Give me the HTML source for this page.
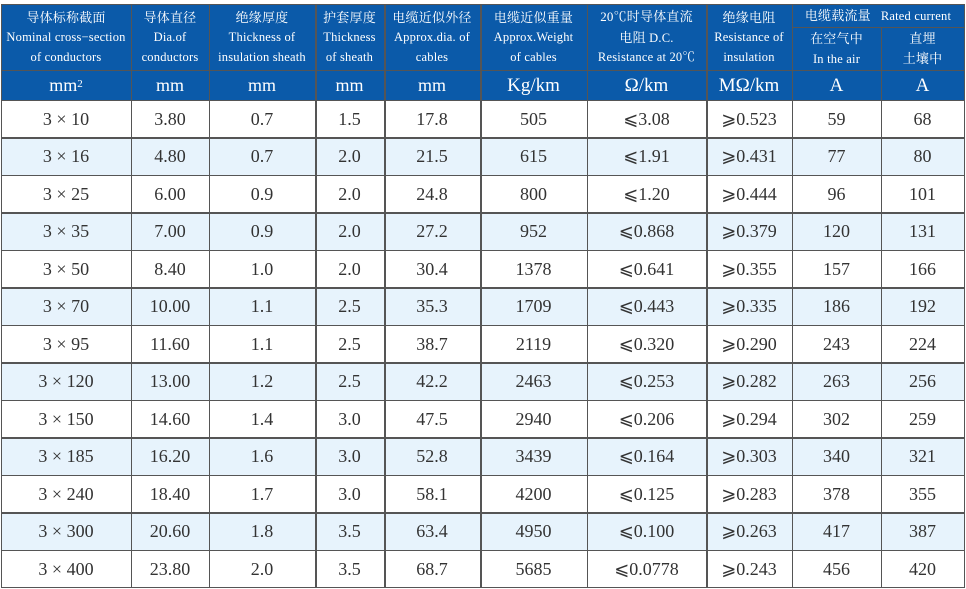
<!DOCTYPE html>
<html><head><meta charset="utf-8">
<style>
html,body{margin:0;padding:0;background:#fff;}
body{width:966px;height:589px;position:relative;overflow:hidden;font-family:"Liberation Serif","Noto Serif CJK SC",serif;}
.c{position:absolute;display:flex;align-items:center;justify-content:center;text-align:center;box-sizing:border-box;}
.h{color:#fff;font-size:12.5px;line-height:19.5px;letter-spacing:0.2px;}
.h .z{font-family:"Liberation Serif","Noto Serif CJK SC",serif;font-size:13px;}
.u{color:#fff;font-size:18px;}
.d{color:#333;font-size:18px;}
.vl{position:absolute;width:1.5px;background:#555;}
.hl{position:absolute;height:1.5px;background:#555;}
</style></head><body>
<!-- blue header background -->
<div style="position:absolute;left:1px;top:4px;width:963px;height:96px;background:#0b5aa9;"></div>
<!-- alternating rows -->
<div style="position:absolute;left:1px;top:137.5px;width:963px;height:37.5px;background:#e7f3fc;"></div>
<div style="position:absolute;left:1px;top:212.5px;width:963px;height:37.5px;background:#e7f3fc;"></div>
<div style="position:absolute;left:1px;top:287.5px;width:963px;height:37.5px;background:#e7f3fc;"></div>
<div style="position:absolute;left:1px;top:362.5px;width:963px;height:37.5px;background:#e7f3fc;"></div>
<div style="position:absolute;left:1px;top:437.5px;width:963px;height:37.5px;background:#e7f3fc;"></div>
<div style="position:absolute;left:1px;top:512.5px;width:963px;height:37.5px;background:#e7f3fc;"></div>

<!-- horizontal lines -->
<div class="hl" style="left:1px;top:3.5px;width:964px;"></div>
<div class="hl" style="left:792px;top:26.5px;width:172px;"></div>
<div class="hl" style="left:1px;top:69.5px;width:964px;"></div>
<div class="hl" style="left:1px;top:99.5px;width:964px;"></div>
<div class="hl" style="left:1px;top:137px;width:964px;"></div>
<div class="hl" style="left:1px;top:174.5px;width:964px;"></div>
<div class="hl" style="left:1px;top:212px;width:964px;"></div>
<div class="hl" style="left:1px;top:249.5px;width:964px;"></div>
<div class="hl" style="left:1px;top:287px;width:964px;"></div>
<div class="hl" style="left:1px;top:324.5px;width:964px;"></div>
<div class="hl" style="left:1px;top:362px;width:964px;"></div>
<div class="hl" style="left:1px;top:399.5px;width:964px;"></div>
<div class="hl" style="left:1px;top:437px;width:964px;"></div>
<div class="hl" style="left:1px;top:474.5px;width:964px;"></div>
<div class="hl" style="left:1px;top:512px;width:964px;"></div>
<div class="hl" style="left:1px;top:549.5px;width:964px;"></div>
<div class="hl" style="left:1px;top:586.5px;width:964px;"></div>

<!-- vertical lines -->
<div class="vl" style="left:0.5px;top:3.5px;height:584.5px;"></div>
<div class="vl" style="left:130.5px;top:3.5px;height:584.5px;"></div>
<div class="vl" style="left:208.5px;top:3.5px;height:584.5px;"></div>
<div class="vl" style="left:315px;top:3.5px;height:584.5px;"></div>
<div class="vl" style="left:384px;top:3.5px;height:584.5px;"></div>
<div class="vl" style="left:480px;top:3.5px;height:584.5px;"></div>
<div class="vl" style="left:586.5px;top:3.5px;height:584.5px;"></div>
<div class="vl" style="left:706px;top:3.5px;height:584.5px;"></div>
<div class="vl" style="left:791.5px;top:3.5px;height:584.5px;"></div>
<div class="vl" style="left:880.5px;top:27px;height:561px;"></div>
<div class="vl" style="left:963.5px;top:3.5px;height:584.5px;"></div>

<!-- header row -->
<div class="c h" style="left:1px;top:5px;width:130px;height:65px;"><div><span class="z">导体标称截面</span><br>Nominal cross−section<br>of conductors</div></div>
<div class="c h" style="left:131px;top:5px;width:78px;height:65px;"><div><span class="z">导体直径</span><br>Dia.of<br>conductors</div></div>
<div class="c h" style="left:209px;top:5px;width:106px;height:65px;"><div><span class="z">绝缘厚度</span><br>Thickness of<br>insulation sheath</div></div>
<div class="c h" style="left:315px;top:5px;width:69px;height:65px;"><div><span class="z">护套厚度</span><br>Thickness<br>of sheath</div></div>
<div class="c h" style="left:384px;top:5px;width:96px;height:65px;"><div><span class="z">电缆近似外径</span><br>Approx.dia. of<br>cables</div></div>
<div class="c h" style="left:480px;top:5px;width:107px;height:65px;"><div><span class="z">电缆近似重量</span><br>Approx.Weight<br>of cables</div></div>
<div class="c h" style="left:587px;top:5px;width:119px;height:65px;"><div><span class="z">20℃时导体直流</span><br><span class="z">电阻</span> D.C.<br>Resistance at 20℃</div></div>
<div class="c h" style="left:706px;top:5px;width:86px;height:65px;"><div><span class="z">绝缘电阻</span><br>Resistance of<br>insulation</div></div>
<div class="c h" style="left:792px;top:5px;width:172px;height:22px;"><div><span class="z">电缆载流量</span>&nbsp;&nbsp;&nbsp;Rated current</div></div>
<div class="c h" style="left:792px;top:28px;width:89px;height:42px;"><div><span class="z">在空气中</span><br>In the air</div></div>
<div class="c h" style="left:881px;top:28px;width:83px;height:42px;"><div><span class="z">直埋<br>土壤中</span></div></div>

<!-- units row -->
<div class="c u" style="left:1px;top:71px;width:130px;height:29px;">mm<sup style="font-size:11px;position:relative;top:-2px;">2</sup></div>
<div class="c u" style="left:131px;top:71px;width:78px;height:29px;">mm</div>
<div class="c u" style="left:209px;top:71px;width:106px;height:29px;">mm</div>
<div class="c u" style="left:315px;top:71px;width:69px;height:29px;">mm</div>
<div class="c u" style="left:384px;top:71px;width:96px;height:29px;">mm</div>
<div class="c u" style="left:480px;top:71px;width:107px;height:29px;font-size:19px;">Kg/km</div>
<div class="c u" style="left:587px;top:71px;width:119px;height:29px;font-size:19px;">Ω/km</div>
<div class="c u" style="left:706px;top:71px;width:86px;height:29px;font-size:19px;">MΩ/km</div>
<div class="c u" style="left:792px;top:71px;width:89px;height:29px;font-size:19px;">A</div>
<div class="c u" style="left:881px;top:71px;width:83px;height:29px;font-size:19px;">A</div>

<div id="rows"></div>
<!-- data rows -->
<div class="c d" style="left:1px;top:101px;width:130px;height:36px;">3 × 10</div><div class="c d" style="left:131px;top:101px;width:78px;height:36px;">3.80</div><div class="c d" style="left:209px;top:101px;width:106px;height:36px;">0.7</div><div class="c d" style="left:315px;top:101px;width:69px;height:36px;">1.5</div><div class="c d" style="left:384px;top:101px;width:96px;height:36px;">17.8</div><div class="c d" style="left:480px;top:101px;width:107px;height:36px;">505</div><div class="c d" style="left:587px;top:101px;width:119px;height:36px;">⩽3.08</div><div class="c d" style="left:706px;top:101px;width:86px;height:36px;">⩾0.523</div><div class="c d" style="left:792px;top:101px;width:89px;height:36px;">59</div><div class="c d" style="left:881px;top:101px;width:83px;height:36px;">68</div>

<div class="c d" style="left:1px;top:138.5px;width:130px;height:36px;">3 × 16</div><div class="c d" style="left:131px;top:138.5px;width:78px;height:36px;">4.80</div><div class="c d" style="left:209px;top:138.5px;width:106px;height:36px;">0.7</div><div class="c d" style="left:315px;top:138.5px;width:69px;height:36px;">2.0</div><div class="c d" style="left:384px;top:138.5px;width:96px;height:36px;">21.5</div><div class="c d" style="left:480px;top:138.5px;width:107px;height:36px;">615</div><div class="c d" style="left:587px;top:138.5px;width:119px;height:36px;">⩽1.91</div><div class="c d" style="left:706px;top:138.5px;width:86px;height:36px;">⩾0.431</div><div class="c d" style="left:792px;top:138.5px;width:89px;height:36px;">77</div><div class="c d" style="left:881px;top:138.5px;width:83px;height:36px;">80</div>

<div class="c d" style="left:1px;top:176px;width:130px;height:36px;">3 × 25</div><div class="c d" style="left:131px;top:176px;width:78px;height:36px;">6.00</div><div class="c d" style="left:209px;top:176px;width:106px;height:36px;">0.9</div><div class="c d" style="left:315px;top:176px;width:69px;height:36px;">2.0</div><div class="c d" style="left:384px;top:176px;width:96px;height:36px;">24.8</div><div class="c d" style="left:480px;top:176px;width:107px;height:36px;">800</div><div class="c d" style="left:587px;top:176px;width:119px;height:36px;">⩽1.20</div><div class="c d" style="left:706px;top:176px;width:86px;height:36px;">⩾0.444</div><div class="c d" style="left:792px;top:176px;width:89px;height:36px;">96</div><div class="c d" style="left:881px;top:176px;width:83px;height:36px;">101</div>

<div class="c d" style="left:1px;top:213.5px;width:130px;height:36px;">3 × 35</div><div class="c d" style="left:131px;top:213.5px;width:78px;height:36px;">7.00</div><div class="c d" style="left:209px;top:213.5px;width:106px;height:36px;">0.9</div><div class="c d" style="left:315px;top:213.5px;width:69px;height:36px;">2.0</div><div class="c d" style="left:384px;top:213.5px;width:96px;height:36px;">27.2</div><div class="c d" style="left:480px;top:213.5px;width:107px;height:36px;">952</div><div class="c d" style="left:587px;top:213.5px;width:119px;height:36px;">⩽0.868</div><div class="c d" style="left:706px;top:213.5px;width:86px;height:36px;">⩾0.379</div><div class="c d" style="left:792px;top:213.5px;width:89px;height:36px;">120</div><div class="c d" style="left:881px;top:213.5px;width:83px;height:36px;">131</div>

<div class="c d" style="left:1px;top:251px;width:130px;height:36px;">3 × 50</div><div class="c d" style="left:131px;top:251px;width:78px;height:36px;">8.40</div><div class="c d" style="left:209px;top:251px;width:106px;height:36px;">1.0</div><div class="c d" style="left:315px;top:251px;width:69px;height:36px;">2.0</div><div class="c d" style="left:384px;top:251px;width:96px;height:36px;">30.4</div><div class="c d" style="left:480px;top:251px;width:107px;height:36px;">1378</div><div class="c d" style="left:587px;top:251px;width:119px;height:36px;">⩽0.641</div><div class="c d" style="left:706px;top:251px;width:86px;height:36px;">⩾0.355</div><div class="c d" style="left:792px;top:251px;width:89px;height:36px;">157</div><div class="c d" style="left:881px;top:251px;width:83px;height:36px;">166</div>

<div class="c d" style="left:1px;top:288.5px;width:130px;height:36px;">3 × 70</div><div class="c d" style="left:131px;top:288.5px;width:78px;height:36px;">10.00</div><div class="c d" style="left:209px;top:288.5px;width:106px;height:36px;">1.1</div><div class="c d" style="left:315px;top:288.5px;width:69px;height:36px;">2.5</div><div class="c d" style="left:384px;top:288.5px;width:96px;height:36px;">35.3</div><div class="c d" style="left:480px;top:288.5px;width:107px;height:36px;">1709</div><div class="c d" style="left:587px;top:288.5px;width:119px;height:36px;">⩽0.443</div><div class="c d" style="left:706px;top:288.5px;width:86px;height:36px;">⩾0.335</div><div class="c d" style="left:792px;top:288.5px;width:89px;height:36px;">186</div><div class="c d" style="left:881px;top:288.5px;width:83px;height:36px;">192</div>

<div class="c d" style="left:1px;top:326px;width:130px;height:36px;">3 × 95</div><div class="c d" style="left:131px;top:326px;width:78px;height:36px;">11.60</div><div class="c d" style="left:209px;top:326px;width:106px;height:36px;">1.1</div><div class="c d" style="left:315px;top:326px;width:69px;height:36px;">2.5</div><div class="c d" style="left:384px;top:326px;width:96px;height:36px;">38.7</div><div class="c d" style="left:480px;top:326px;width:107px;height:36px;">2119</div><div class="c d" style="left:587px;top:326px;width:119px;height:36px;">⩽0.320</div><div class="c d" style="left:706px;top:326px;width:86px;height:36px;">⩾0.290</div><div class="c d" style="left:792px;top:326px;width:89px;height:36px;">243</div><div class="c d" style="left:881px;top:326px;width:83px;height:36px;">224</div>

<div class="c d" style="left:1px;top:363.5px;width:130px;height:36px;">3 × 120</div><div class="c d" style="left:131px;top:363.5px;width:78px;height:36px;">13.00</div><div class="c d" style="left:209px;top:363.5px;width:106px;height:36px;">1.2</div><div class="c d" style="left:315px;top:363.5px;width:69px;height:36px;">2.5</div><div class="c d" style="left:384px;top:363.5px;width:96px;height:36px;">42.2</div><div class="c d" style="left:480px;top:363.5px;width:107px;height:36px;">2463</div><div class="c d" style="left:587px;top:363.5px;width:119px;height:36px;">⩽0.253</div><div class="c d" style="left:706px;top:363.5px;width:86px;height:36px;">⩾0.282</div><div class="c d" style="left:792px;top:363.5px;width:89px;height:36px;">263</div><div class="c d" style="left:881px;top:363.5px;width:83px;height:36px;">256</div>

<div class="c d" style="left:1px;top:401px;width:130px;height:36px;">3 × 150</div><div class="c d" style="left:131px;top:401px;width:78px;height:36px;">14.60</div><div class="c d" style="left:209px;top:401px;width:106px;height:36px;">1.4</div><div class="c d" style="left:315px;top:401px;width:69px;height:36px;">3.0</div><div class="c d" style="left:384px;top:401px;width:96px;height:36px;">47.5</div><div class="c d" style="left:480px;top:401px;width:107px;height:36px;">2940</div><div class="c d" style="left:587px;top:401px;width:119px;height:36px;">⩽0.206</div><div class="c d" style="left:706px;top:401px;width:86px;height:36px;">⩾0.294</div><div class="c d" style="left:792px;top:401px;width:89px;height:36px;">302</div><div class="c d" style="left:881px;top:401px;width:83px;height:36px;">259</div>

<div class="c d" style="left:1px;top:438.5px;width:130px;height:36px;">3 × 185</div><div class="c d" style="left:131px;top:438.5px;width:78px;height:36px;">16.20</div><div class="c d" style="left:209px;top:438.5px;width:106px;height:36px;">1.6</div><div class="c d" style="left:315px;top:438.5px;width:69px;height:36px;">3.0</div><div class="c d" style="left:384px;top:438.5px;width:96px;height:36px;">52.8</div><div class="c d" style="left:480px;top:438.5px;width:107px;height:36px;">3439</div><div class="c d" style="left:587px;top:438.5px;width:119px;height:36px;">⩽0.164</div><div class="c d" style="left:706px;top:438.5px;width:86px;height:36px;">⩾0.303</div><div class="c d" style="left:792px;top:438.5px;width:89px;height:36px;">340</div><div class="c d" style="left:881px;top:438.5px;width:83px;height:36px;">321</div>

<div class="c d" style="left:1px;top:476px;width:130px;height:36px;">3 × 240</div><div class="c d" style="left:131px;top:476px;width:78px;height:36px;">18.40</div><div class="c d" style="left:209px;top:476px;width:106px;height:36px;">1.7</div><div class="c d" style="left:315px;top:476px;width:69px;height:36px;">3.0</div><div class="c d" style="left:384px;top:476px;width:96px;height:36px;">58.1</div><div class="c d" style="left:480px;top:476px;width:107px;height:36px;">4200</div><div class="c d" style="left:587px;top:476px;width:119px;height:36px;">⩽0.125</div><div class="c d" style="left:706px;top:476px;width:86px;height:36px;">⩾0.283</div><div class="c d" style="left:792px;top:476px;width:89px;height:36px;">378</div><div class="c d" style="left:881px;top:476px;width:83px;height:36px;">355</div>

<div class="c d" style="left:1px;top:513.5px;width:130px;height:36px;">3 × 300</div><div class="c d" style="left:131px;top:513.5px;width:78px;height:36px;">20.60</div><div class="c d" style="left:209px;top:513.5px;width:106px;height:36px;">1.8</div><div class="c d" style="left:315px;top:513.5px;width:69px;height:36px;">3.5</div><div class="c d" style="left:384px;top:513.5px;width:96px;height:36px;">63.4</div><div class="c d" style="left:480px;top:513.5px;width:107px;height:36px;">4950</div><div class="c d" style="left:587px;top:513.5px;width:119px;height:36px;">⩽0.100</div><div class="c d" style="left:706px;top:513.5px;width:86px;height:36px;">⩾0.263</div><div class="c d" style="left:792px;top:513.5px;width:89px;height:36px;">417</div><div class="c d" style="left:881px;top:513.5px;width:83px;height:36px;">387</div>

<div class="c d" style="left:1px;top:551px;width:130px;height:36px;">3 × 400</div><div class="c d" style="left:131px;top:551px;width:78px;height:36px;">23.80</div><div class="c d" style="left:209px;top:551px;width:106px;height:36px;">2.0</div><div class="c d" style="left:315px;top:551px;width:69px;height:36px;">3.5</div><div class="c d" style="left:384px;top:551px;width:96px;height:36px;">68.7</div><div class="c d" style="left:480px;top:551px;width:107px;height:36px;">5685</div><div class="c d" style="left:587px;top:551px;width:119px;height:36px;">⩽0.0778</div><div class="c d" style="left:706px;top:551px;width:86px;height:36px;">⩾0.243</div><div class="c d" style="left:792px;top:551px;width:89px;height:36px;">456</div><div class="c d" style="left:881px;top:551px;width:83px;height:36px;">420</div>
</body></html>
